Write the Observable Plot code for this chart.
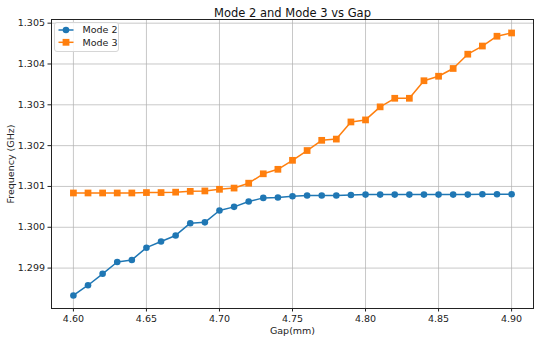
<!DOCTYPE html>
<html>
<head>
<meta charset="utf-8">
<script src="https://cdn.jsdelivr.net/npm/d3@7"></script>
<script src="https://cdn.jsdelivr.net/npm/@observablehq/plot@0.6"></script>
<style>
  html, body { margin: 0; padding: 0; background: #fff; }
  #chart svg { display: block; }
</style>
</head>
<body>
<div id="chart"></div>
<script>
const gaps = [4.60, 4.61, 4.62, 4.63, 4.64, 4.65, 4.66, 4.67, 4.68, 4.69, 4.70,
              4.71, 4.72, 4.73, 4.74, 4.75, 4.76, 4.77, 4.78, 4.79, 4.80,
              4.81, 4.82, 4.83, 4.84, 4.85, 4.86, 4.87, 4.88, 4.89, 4.90];
const mode2 = [1.29833, 1.29858, 1.29886, 1.29915, 1.29920, 1.29950, 1.29965, 1.29980, 1.30010, 1.30012, 1.30041,
               1.30050, 1.30063, 1.30072, 1.30073, 1.30076, 1.30078, 1.30078, 1.30078, 1.30079, 1.30080,
               1.30080, 1.30080, 1.30080, 1.30080, 1.30080, 1.30080, 1.30080, 1.30081, 1.30081, 1.30081];
const mode3 = [1.30084, 1.30084, 1.30084, 1.30084, 1.30084, 1.30085, 1.30085, 1.30086, 1.30088, 1.30089, 1.30093,
               1.30096, 1.30108, 1.30131, 1.30142, 1.30164, 1.30188, 1.30213, 1.30216, 1.30258, 1.30263,
               1.30295, 1.30316, 1.30316, 1.30359, 1.30370, 1.30389, 1.30424, 1.30444, 1.30468, 1.30476];
const xTicks = [4.60, 4.65, 4.70, 4.75, 4.80, 4.85, 4.90];
const yTicks = [1.299, 1.300, 1.301, 1.302, 1.303, 1.304, 1.305];
const seriesNames = ["Mode 2", "Mode 3"];
const colors = ["#1f77b4", "#ff7f0e"];
const title = "Mode 2 and Mode 3 vs Gap";
const xLabel = "Gap(mm)";
const yLabel = "Frequency (GHz)";

const d2 = gaps.map((g, i) => ({gap: g, f: mode2[i]}));
const d3data = gaps.map((g, i) => ({gap: g, f: mode3[i]}));

const chart = Plot.plot({
  width: 534,
  height: 339,
  marginLeft: 51,
  marginRight: 1,
  marginTop: 19,
  marginBottom: 31,
  style: {fontFamily: "DejaVu Sans, sans-serif", fontSize: "9.5px", color: "#222", background: "#fff"},
  x: {domain: [4.585, 4.915]},
  y: {domain: [1.29801, 1.30509]},
  marks: [
    Plot.gridX(xTicks, {stroke: "#b0b0b0", strokeOpacity: 0.7, strokeWidth: 1}),
    Plot.gridY(yTicks, {stroke: "#b0b0b0", strokeOpacity: 0.7, strokeWidth: 1}),
    Plot.axisX({ticks: xTicks, tickFormat: d3.format(".2f"), tickSize: 3.5, tickPadding: 3,
                label: xLabel, labelAnchor: "center", labelArrow: "none", labelOffset: 25}),
    Plot.axisY({ticks: yTicks, tickFormat: d3.format(".3f"), tickSize: 3.5, tickPadding: 3,
                label: yLabel, labelAnchor: "center", labelArrow: "none", labelOffset: 44}),
    Plot.line(d2, {x: "gap", y: "f", stroke: colors[0], strokeWidth: 1.5}),
    Plot.dot(d2, {x: "gap", y: "f", fill: colors[0], r: 3.3, symbol: "circle"}),
    Plot.line(d3data, {x: "gap", y: "f", stroke: colors[1], strokeWidth: 1.5}),
    Plot.dot(d3data, {x: "gap", y: "f", fill: colors[1], r: 3.8, symbol: "square"}),
    Plot.frame({stroke: "#222", strokeWidth: 1}),
    Plot.text([title], {frameAnchor: "top", dy: -10.5, fontSize: 11.5, fill: "#111"})
  ]
});

// legend inside the plot area (top-left)
const svg = d3.select(chart);
const lg = svg.append("g").attr("transform", "translate(54.5,22.5)");
lg.append("rect").attr("width", 64).attr("height", 29).attr("rx", 2.5)
  .attr("fill", "#fff").attr("fill-opacity", 0.85).attr("stroke", "#d6d6d6");
seriesNames.forEach((name, i) => {
  const cy = 7.5 + i * 12.3;
  lg.append("line").attr("x1", 4).attr("x2", 19).attr("y1", cy).attr("y2", cy)
    .attr("stroke", colors[i]).attr("stroke-width", 1.5);
  if (i === 0) {
    lg.append("circle").attr("cx", 11.5).attr("cy", cy).attr("r", 3.3).attr("fill", colors[i]);
  } else {
    lg.append("rect").attr("x", 11.5 - 3.4).attr("y", cy - 3.4).attr("width", 6.8).attr("height", 6.8).attr("fill", colors[i]);
  }
  lg.append("text").attr("x", 28).attr("y", cy).attr("dy", "0.35em")
    .attr("text-anchor", "start")
    .attr("font-size", 9.5).attr("fill", "#222").text(name);
});

document.getElementById("chart").append(chart);
</script>
</body>
</html>
